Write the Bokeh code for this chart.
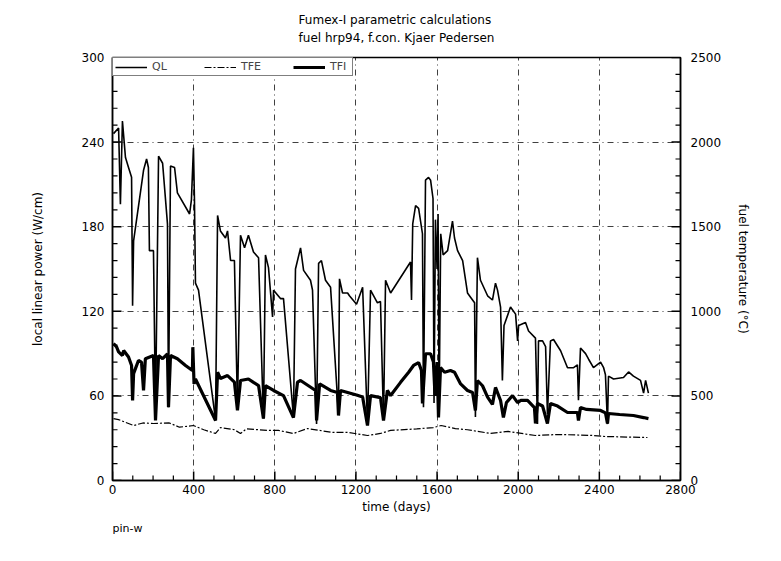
from bokeh.plotting import figure
from bokeh.models import (Range1d, LinearAxis, SingleIntervalTicker, FixedTicker,
                          Legend, LegendItem, Title)
from bokeh.embed import file_html
from bokeh.resources import INLINE

# ---------------- data ----------------
days_ql = [5, 30, 39, 49, 64, 79, 94, 99, 104, 153,
           168, 177, 182, 202, 212, 227, 247, 271, 276, 286,
           306, 320, 380, 389, 399, 404, 409, 424, 508, 518,
           532, 557, 567, 582, 601, 616, 631, 651, 670, 695,
           720, 744, 754, 769, 789, 794, 828, 843, 892, 902,
           927, 942, 976, 986, 1006, 1016, 1030, 1050, 1075, 1114,
           1119, 1134, 1159, 1168, 1203, 1233, 1257, 1272, 1306, 1321,
           1336, 1346, 1371, 1469, 1474, 1480, 1494, 1509, 1528, 1533,
           1543, 1558, 1568, 1580, 1585, 1592, 1600, 1605, 1610, 1618,
           1630, 1652, 1676, 1686, 1701, 1726, 1750, 1765, 1785, 1789,
           1799, 1814, 1849, 1873, 1888, 1898, 1913, 1922, 1930, 1962,
           1987, 1997, 2002, 2036, 2051, 2085, 2095, 2100, 2120, 2135,
           2144, 2159, 2174, 2209, 2243, 2273, 2292, 2297, 2307, 2332,
           2347, 2371, 2406, 2421, 2430, 2440, 2445, 2470, 2519, 2544,
           2568, 2603, 2618, 2628, 2642]
ql = [246, 250, 196, 255, 229, 222, 215, 124, 170, 220,
      228, 222, 163, 163, 47, 230, 225, 182, 52, 223,
      222, 204, 189, 199, 236, 199, 140, 135, 43, 188,
      177, 172, 177, 156, 156, 52, 174, 165, 174, 162,
      158, 44, 160, 151, 116, 135, 129, 129, 45, 150,
      165, 149, 142, 135, 40, 154, 156, 142, 137, 47,
      143, 133, 133, 131, 125, 137, 40, 135, 126, 127,
      43, 142, 133, 155, 128, 182, 195, 193, 175, 52,
      213, 215, 213, 200, 55, 185, 150, 189, 50, 175,
      160, 163, 184, 172, 163, 156, 133, 130, 126, 45,
      158, 142, 131, 128, 140, 135, 123, 71, 110, 123,
      118, 99, 110, 112, 106, 101, 40, 99, 99, 95,
      47, 99, 100, 92, 80, 80, 82, 57, 94, 90,
      86, 80, 84, 80, 75, 40, 74, 72, 73, 77,
      74, 71, 62, 71, 62]

days_tfi = [5, 20, 30, 49, 55, 79, 94, 99, 104, 128,
            143, 153, 162, 202, 212, 227, 247, 271, 276, 286,
            320, 360, 394, 396, 402, 409, 508, 518, 532, 567,
            601, 616, 631, 670, 695, 720, 744, 754, 794, 843,
            892, 912, 927, 966, 1001, 1006, 1021, 1075, 1109, 1114,
            1124, 1203, 1233, 1257, 1272, 1321, 1336, 1355, 1371, 1420,
            1460, 1484, 1509, 1523, 1528, 1543, 1568, 1582, 1590, 1600,
            1607, 1617, 1637, 1666, 1686, 1716, 1750, 1775, 1789, 1799,
            1824, 1849, 1873, 1888, 1913, 1927, 1942, 1972, 1997, 2012,
            2046, 2080, 2085, 2095, 2120, 2144, 2159, 2194, 2243, 2292,
            2297, 2307, 2337, 2406, 2430, 2440, 2445, 2500, 2568, 2618,
            2642]
tfi = [810, 790, 760, 739, 768, 730, 680, 473, 632, 709,
       700, 532, 720, 739, 355, 739, 720, 749, 433, 739,
       720, 680, 650, 788, 571, 600, 355, 640, 603, 620,
       581, 414, 591, 600, 580, 561, 366, 561, 532, 502,
       372, 581, 591, 560, 532, 355, 571, 532, 520, 384,
       532, 505, 493, 325, 502, 490, 355, 532, 502, 580,
       640, 680, 697, 650, 455, 749, 749, 700, 500, 700,
       372, 668, 640, 650, 640, 571, 532, 520, 414, 591,
       560, 493, 450, 550, 473, 372, 461, 502, 460, 473,
       473, 431, 337, 455, 440, 337, 455, 440, 402, 402,
       355, 431, 420, 414, 400, 337, 396, 390, 384, 372,
       366]

days_tfe = [5, 30, 104, 150, 202, 280, 330, 399, 450, 508,
            532, 601, 631, 660, 769, 818, 892, 961, 1085, 1160,
            1257, 1321, 1371, 1500, 1582, 1620, 1690, 1750, 1864, 1950,
            2085, 2200, 2371, 2430, 2637]
tfe = [366, 360, 325, 340, 337, 340, 315, 325, 300, 278,
       313, 300, 278, 305, 296, 296, 278, 307, 284, 284,
       266, 278, 296, 305, 313, 325, 307, 300, 278, 290,
       266, 272, 266, 260, 254]

# axis tick values
x_major = list(range(0, 2801, 400))
x_minor = [v for v in range(0, 2801, 100) if v % 400]
y_major = list(range(0, 301, 60))
y_minor = [v for v in range(0, 301, 12) if v % 60]
y2_major = list(range(0, 2501, 500))
y2_minor = [v for v in range(0, 2501, 100) if v % 500]

title_lines = ["Fumex-I parametric calculations", "fuel hrp94, f.con. Kjaer Pedersen"]
x_label = "time (days)"
y_label = "local linear power (W/cm)"
y2_label = "fuel temperature (°C)"
note = "pin-w"

FONT = "DejaVu Sans"
XMAX, YMAX, Y2MAX = 2800, 300, 2500
FRAME_W, FRAME_H = 568, 423

# ---------------- figure ----------------
p = figure(width=765, height=545, output_backend="svg", toolbar_location=None,
           title=None,
           x_range=Range1d(0, XMAX), y_range=Range1d(0, YMAX),
           min_border_left=112, min_border_right=85,
           min_border_top=57, min_border_bottom=65)
p.extra_y_ranges = {"temp": Range1d(0, Y2MAX)}
p.add_layout(LinearAxis(y_range_name="temp"), "right")

p.outline_line_color = "black"
p.outline_line_width = 1.5

p.xaxis.ticker = SingleIntervalTicker(interval=400, num_minor_ticks=4)
p.yaxis[0].ticker = SingleIntervalTicker(interval=60, num_minor_ticks=5)
p.yaxis[1].ticker = SingleIntervalTicker(interval=500, num_minor_ticks=5)

p.xaxis.axis_label = x_label
p.yaxis[0].axis_label = y_label
p.yaxis[1].axis_label = y2_label

for ax in [p.xaxis[0], p.yaxis[0], p.yaxis[1]]:
    ax.axis_line_color = "black"
    ax.axis_line_width = 1.5
    ax.major_tick_in = 0
    ax.major_tick_out = 0
    ax.minor_tick_in = 0
    ax.minor_tick_out = 0
    ax.major_label_text_font = FONT
    ax.major_label_text_font_size = "12px"
    ax.major_label_text_color = "black"
    ax.axis_label_text_font = FONT
    ax.axis_label_text_font_size = "12px"
    ax.axis_label_text_font_style = "normal"
    ax.axis_label_text_color = "black"

p.xaxis.major_label_standoff = 4
p.xaxis.axis_label_standoff = 3
p.yaxis[0].major_label_standoff = 8
p.yaxis[0].axis_label_standoff = 34
p.yaxis[1].major_label_standoff = 10
p.yaxis[1].axis_label_standoff = 12

p.xgrid.ticker = FixedTicker(ticks=x_major[1:-1])
p.ygrid.ticker = FixedTicker(ticks=y_major[1:-1])
for g in [p.xgrid[0], p.ygrid[0]]:
    g.grid_line_color = "black"
    g.grid_line_alpha = 0.75
    g.grid_line_width = 1
    g.grid_line_dash = "6 4 1 4"

# ---------------- inward tick marks (drawn through the scales) ----------------
MAJ, MIN = 9, 5  # tick lengths in px
dy = YMAX / FRAME_H
dx = XMAX / FRAME_W
p.segment(x0=x_major, y0=[0] * len(x_major), x1=x_major, y1=[MAJ * dy] * len(x_major),
          line_color="black", line_width=1.5)
p.segment(x0=x_minor, y0=[0] * len(x_minor), x1=x_minor, y1=[MIN * dy] * len(x_minor),
          line_color="black", line_width=1.2)
p.segment(x0=[0] * len(y_major), y0=y_major, x1=[MAJ * dx] * len(y_major), y1=y_major,
          line_color="black", line_width=1.5)
p.segment(x0=[0] * len(y_minor), y0=y_minor, x1=[MIN * dx] * len(y_minor), y1=y_minor,
          line_color="black", line_width=1.2)
p.segment(x0=[XMAX] * len(y2_major), y0=y2_major, x1=[XMAX - MAJ * dx] * len(y2_major),
          y1=y2_major, y_range_name="temp", line_color="black", line_width=1.5)
p.segment(x0=[XMAX] * len(y2_minor), y0=y2_minor, x1=[XMAX - MIN * dx] * len(y2_minor),
          y1=y2_minor, y_range_name="temp", line_color="black", line_width=1.2)

# ---------------- series ----------------
r_ql = p.line(days_ql, ql, line_color="black", line_width=1.6)
r_tfe = p.line(days_tfe, tfe, y_range_name="temp", line_color="black",
               line_width=1.2, line_dash="7 2 2 2")
r_tfi = p.line(days_tfi, tfi, y_range_name="temp", line_color="black",
               line_width=3.2)

legend = Legend(items=[LegendItem(label="QL", renderers=[r_ql]),
                       LegendItem(label="TFE", renderers=[r_tfe]),
                       LegendItem(label="TFI", renderers=[r_tfi])],
                location="top_left", orientation="horizontal",
                margin=0, padding=2, spacing=32, glyph_width=32, glyph_height=10,
                label_standoff=5, label_text_font=FONT, label_text_font_size="11px",
                label_height=10, border_line_color="black", border_line_width=1.2,
                background_fill_color="white", background_fill_alpha=1)
p.add_layout(legend)

# ---------------- titles and note ----------------
p.add_layout(Title(text=title_lines[0] + "\n" + title_lines[1], align="center",
                   vertical_align="top",
                   text_font=FONT, text_font_size="12px", text_font_style="normal",
                   text_line_height=1.3, text_color="black", standoff=22), "above")
p.add_layout(Title(text=note, align="left", vertical_align="top", text_font=FONT,
                   text_font_size="11px", text_font_style="normal",
                   text_color="black", standoff=10), "below")

open("out.html", "w").write(file_html(p, INLINE))
